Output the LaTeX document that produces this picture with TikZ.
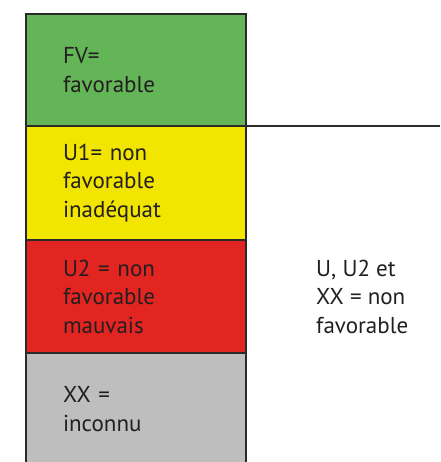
\documentclass[tikz,border=0pt]{standalone}
\usepackage{fontspec}
\setmainfont{PT Sans}
\usetikzlibrary{positioning}

\definecolor{fvgreen}{HTML}{63B557}
\definecolor{uyellow}{HTML}{F2E500}
\definecolor{ured}{HTML}{E32522}
\definecolor{xxgrey}{HTML}{BEBEBE}
\definecolor{inkline}{HTML}{2A2A2A}
\definecolor{inktext}{HTML}{231F20}

\tikzset{
    band/.style={shape=rectangle, draw=inkline, line width=2pt, outer sep=0pt,
        minimum width=220pt, inner xsep=37pt, inner ysep=0pt,
        text width=146pt, align=left, text=inktext,
        font=\fontsize{23}{28.5}\selectfont},
    note/.style={inner sep=0pt, align=left, text=inktext,
        font=\fontsize{23}{28.5}\selectfont}
}

\begin{document}
\begin{tikzpicture}[x=1pt, y=1pt]
    \useasboundingbox (0,0) rectangle (440,462);
    \clip (0,0) rectangle (440,462);
    \coordinate (edge) at (440,0);
    % colour bands, top to bottom
    \node [band, fill=fvgreen, minimum height=112pt, anchor=north west] (fv) at (26,448) {FV=\\favorable};
    \node [band, fill=uyellow, minimum height=114pt, below=0pt of fv] (u1) {U1= non\\favorable\\inad\'equat};
    \node [band, fill=ured, minimum height=113pt, below=0pt of u1] (u2) {U2 = non\\favorable\\mauvais};
    \node [band, fill=xxgrey, minimum height=112pt, below=0pt of u2] (xx) {XX =\\inconnu};
    % right side
    \node [note, right=70pt of u2] (verdict) {U, U2 et\\XX = non\\favorable};
    \draw [inkline, line width=1.5pt] (fv.south east) -- (fv.south east -| edge);
\end{tikzpicture}
\end{document}
